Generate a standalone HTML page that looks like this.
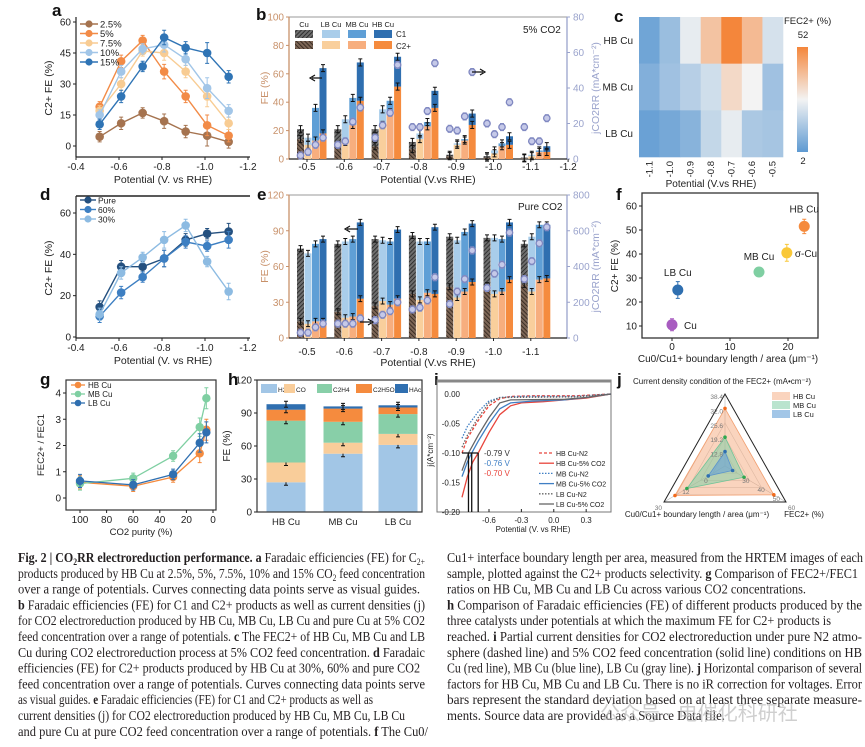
<!DOCTYPE html>
<html><head><meta charset="utf-8">
<style>
body{margin:0;background:#fff;width:865px;height:747px;overflow:hidden}
svg{display:block;font-family:"Liberation Sans","Noto Sans CJK SC",sans-serif}
.cap{font-family:"Liberation Serif","Noto Serif CJK SC",serif;font-size:14px;fill:#231f20}
.lt{font-size:17px;font-weight:bold;fill:#111}
</style></head>
<body>
<svg id="fig" width="865" height="747" viewBox="0 0 865 747">
<defs>
<pattern id="hatch1" width="3" height="3" patternUnits="userSpaceOnUse" patternTransform="rotate(45)"><rect width="3" height="3" fill="#6e6e6e"/><line x1="0" y1="0" x2="0" y2="3" stroke="#222" stroke-width="1.6"/></pattern>
<pattern id="hatch2" width="3" height="3" patternUnits="userSpaceOnUse" patternTransform="rotate(-45)"><rect width="3" height="3" fill="#7d6656"/><line x1="0" y1="0" x2="0" y2="3" stroke="#2b2019" stroke-width="1.6"/></pattern>
<linearGradient id="cbar" x1="0" y1="1" x2="0" y2="0"><stop offset="0" stop-color="#5e9ad2"/><stop offset="0.5" stop-color="#f3f3f3"/><stop offset="1" stop-color="#f4863b"/></linearGradient>
</defs>
<text class="lt" x="52" y="16">a</text>
<text class="lt" x="256" y="20">b</text>
<text class="lt" x="614" y="22">c</text>
<text class="lt" x="40" y="200">d</text>
<text class="lt" x="257" y="200">e</text>
<text class="lt" x="616" y="200">f</text>
<text class="lt" x="40" y="385">g</text>
<text class="lt" x="228" y="385">h</text>
<text class="lt" x="434" y="385">i</text>
<text class="lt" x="617" y="385">j</text>

<g>
<text class="cap" x="18" y="562" textLength="407" lengthAdjust="spacingAndGlyphs"><tspan font-weight="bold">Fig. 2 | CO<tspan font-size="9" dy="3">2</tspan><tspan dy="-3">RR electroreduction performance. a</tspan></tspan> Faradaic efficiencies (FE) for C<tspan font-size="9" dy="3">2+</tspan></text>
<text class="cap" x="18" y="577.8" textLength="407" lengthAdjust="spacingAndGlyphs">products produced by HB Cu at 2.5%, 5%, 7.5%, 10% and 15% CO<tspan font-size="9" dy="3">2</tspan><tspan dy="-3"> feed concentration</tspan></text>
<text class="cap" x="18" y="593.6" textLength="402" lengthAdjust="spacingAndGlyphs">over a range of potentials. Curves connecting data points serve as visual guides.</text>
<text class="cap" x="18" y="609.4" textLength="407" lengthAdjust="spacingAndGlyphs"><tspan font-weight="bold">b</tspan> Faradaic efficiencies (FE) for C1 and C2+ products as well as current densities (j)</text>
<text class="cap" x="18" y="625.2" textLength="407" lengthAdjust="spacingAndGlyphs">for CO2 electroreduction produced by HB Cu, MB Cu, LB Cu and pure Cu at 5% CO2</text>
<text class="cap" x="18" y="641" textLength="407" lengthAdjust="spacingAndGlyphs">feed concentration over a range of potentials. <tspan font-weight="bold">c</tspan> The FEC2+ of HB Cu, MB Cu and LB</text>
<text class="cap" x="18" y="656.8" textLength="407" lengthAdjust="spacingAndGlyphs">Cu during CO2 electroreduction process at 5% CO2 feed concentration. <tspan font-weight="bold">d</tspan> Faradaic</text>
<text class="cap" x="18" y="672.6" textLength="402" lengthAdjust="spacingAndGlyphs">efficiencies (FE) for C2+ products produced by HB Cu at 30%, 60% and pure CO2</text>
<text class="cap" x="18" y="688.4" textLength="407" lengthAdjust="spacingAndGlyphs">feed concentration over a range of potentials. Curves connecting data points serve</text>
<text class="cap" x="18" y="704.2" textLength="355" lengthAdjust="spacingAndGlyphs">as visual guides. <tspan font-weight="bold">e</tspan> Faradaic efficiencies (FE) for C1 and C2+ products as well as</text>
<text class="cap" x="18" y="720" textLength="387" lengthAdjust="spacingAndGlyphs">current densities (j) for CO2 electroreduction produced by HB Cu, MB Cu, LB Cu</text>
<text class="cap" x="18" y="735.8" textLength="410" lengthAdjust="spacingAndGlyphs">and pure Cu at pure CO2 feed concentration over a range of potentials. <tspan font-weight="bold">f</tspan> The Cu0/</text>
<text class="cap" x="447" y="562" textLength="416" lengthAdjust="spacingAndGlyphs">Cu1+ interface boundary length per area, measured from the HRTEM images of each</text>
<text class="cap" x="447" y="577.8" textLength="411" lengthAdjust="spacingAndGlyphs">sample, plotted against the C2+ products selectivity. <tspan font-weight="bold">g</tspan> Comparison of FEC2+/FEC1</text>
<text class="cap" x="447" y="593.6" textLength="359" lengthAdjust="spacingAndGlyphs">ratios on HB Cu, MB Cu and LB Cu across various CO2 concentrations.</text>
<text class="cap" x="447" y="609.4" textLength="415" lengthAdjust="spacingAndGlyphs"><tspan font-weight="bold">h</tspan> Comparison of Faradaic efficiencies (FE) of different products produced by the</text>
<text class="cap" x="447" y="625.2" textLength="384" lengthAdjust="spacingAndGlyphs">three catalysts under potentials at which the maximum FE for C2+ products is</text>
<text class="cap" x="447" y="641" textLength="415" lengthAdjust="spacingAndGlyphs">reached. <tspan font-weight="bold">i</tspan> Partial current densities for CO2 electroreduction under pure N2 atmo-</text>
<text class="cap" x="447" y="656.8" textLength="415" lengthAdjust="spacingAndGlyphs">sphere (dashed line) and 5% CO2 feed concentration (solid line) conditions on HB</text>
<text class="cap" x="447" y="672.6" textLength="415" lengthAdjust="spacingAndGlyphs">Cu (red line), MB Cu (blue line), LB Cu (gray line). <tspan font-weight="bold">j</tspan> Horizontal comparison of several</text>
<text class="cap" x="447" y="688.4" textLength="415" lengthAdjust="spacingAndGlyphs">factors for HB Cu, MB Cu and LB Cu. There is no iR correction for voltages. Error</text>
<text class="cap" x="447" y="704.2" textLength="415" lengthAdjust="spacingAndGlyphs">bars represent the standard deviation based on at least three separate measure-</text>
<text class="cap" x="447" y="720" textLength="278" lengthAdjust="spacingAndGlyphs">ments. Source data are provided as a Source Data file.</text>
<text x="600" y="720" font-size="20" fill="#bbb" fill-opacity="0.7">公众号 · 电催化科研社</text>
</g>
</svg>
<script>
const NS='http://www.w3.org/2000/svg';
const svg=document.getElementById('fig');
function mk(tag,attrs,parent){const e=document.createElementNS(NS,tag);for(const k in attrs)e.setAttribute(k,attrs[k]);(parent||svg).appendChild(e);return e;}
function txt(x,y,s,attrs){const e=mk('text',Object.assign({x:x,y:y},attrs||{}));e.textContent=s;return e;}
function lin(p0,p1,v0,v1){return v=>p0+(v-v0)*(p1-p0)/(v1-v0);}

/* ---------- data: panel a ---------- */
const aPot=[-0.51,-0.61,-0.71,-0.81,-0.91,-1.01,-1.11];
const aNames=['2.5%','5%','7.5%','10%','15%'];
const aFE25=[4.5,11,16,12,7,5,2];
const aFE5=[19,41,51,36,24,10,5];
const aFE75=[17,30,46,45,36,24,11];
const aFE10=[15,36,47,49,42,28,17];
const aFE15=[10.5,24,38.5,52.5,47.5,45,33.5];
const aErr=[2.5,3,2.5,3.5,3,5,3];
/* ---------- data: panel d ---------- */
const dNames=['Pure','60%','30%'];
const dPure=[14.5,34,34,38,47,50,51];
const d60=[10,21.5,29,38,46,44,47];
const d30=[11,31,38.5,47,54,36.5,22];
const dErr=[3,3,2.5,4,3,2.5,4];
/* ---------- data: panel b (5% CO2) ---------- */
const bPot=[-0.5,-0.6,-0.7,-0.8,-0.9,-1.0,-1.1];
const bTotCu=[21,21,21,12,3,2,1];
const bTotLB=[15,28,35,18,11,6,3];
const bTotMB=[36,43,41,26,14,11,6];
const bTotHB=[64,68,72,48,32,16,9];
const bC2Cu=[14,10,9,7,2,1,0.5];
const bC2LB=[10,12,24,14,10,4,2];
const bC2MB=[13,24,33,23,13,9,5];
const bC2HB=[18,41,51,36,24,10,5];
const bJCu=[2,8,12,18,17,20,18];
const bJLB=[4,10,19,18,16,14,10];
const bJMB=[8,21,26,27,24,18,10];
const bJHB=[12,29,53,54,49,32,23];
/* ---------- data: panel e (pure CO2) ---------- */
const eTotCu=[75,79,83,86,85,84,79];
const eTotLB=[71,81,82,81,82,84,85];
const eTotMB=[79,83,81,81,89,83,95];
const eTotHB=[83,97,91,93,96,97,95];
const eC2Cu=[14,22,27,37,43,44,45];
const eC2LB=[12,17,31,32,34,37,39];
const eC2MB=[14,18,28,38,39,39,49];
const eC2HB=[14,33,33,37,47,49,50];
const eJCu=[30,80,100,160,190,280,330];
const eJLB=[30,80,130,170,260,360,430];
const eJMB=[60,80,150,210,330,410,530];
const eJHB=[80,110,200,340,490,590,620];
/* ---------- data: panel c ---------- */
const cCols=['-1.1','-1.0','-0.9','-0.8','-0.7','-0.6','-0.5'];
const cRows=['HB Cu','MB Cu','LB Cu'];
const cHB=[5,12,25,38,52,40,22];
const cMB=[8,13,17,21,33,27,13];
const cLB=[4,6,9,19,25,15,14];
/* ---------- data: panel f ---------- */
const fNames=['Cu','LB Cu','MB Cu','σ-Cu','HB Cu'];
const fBoundary=[0,1,15,19.8,22.8];
const fFE=[10.5,25,32.5,40.5,51.5];
const fErr=[2.5,3.5,1,3.5,3];
/* ---------- data: panel g ---------- */
const gPurity=[100,60,30,10,5];
const gHB=[0.6,0.45,0.8,1.7,2.6];
const gMB=[0.55,0.75,1.6,2.7,3.8];
const gLB=[0.65,0.5,0.9,2.1,2.5];
const gErr=[0.25,0.2,0.2,0.35,0.4];
/* ---------- data: panel h ---------- */
const hCats=['HB Cu','MB Cu','LB Cu'];
const hProducts=['H2','CO','C2H4','C2H5OH','HAc'];
const hH2=[27,53,61];
const hCO=[18,10,10];
const hC2H4=[38,19,18];
const hEtOH=[10,12,6];
const hHAc=[5,2,2];
/* ---------- data: panel i ---------- */
const iHBN2=[[-0.85,-0.10],[-0.8,-0.075],[-0.7,-0.045],[-0.6,-0.02],[-0.5,-0.008],[-0.4,-0.004],[-0.2,-0.003],[0.2,-0.003],[0.53,0]];
const iHBCO2=[[-0.85,-0.175],[-0.8,-0.14],[-0.75,-0.115],[-0.7,-0.10],[-0.6,-0.065],[-0.5,-0.035],[-0.4,-0.02],[-0.3,-0.015],[-0.1,-0.013],[0.1,-0.01],[0.3,-0.007],[0.53,0]];
const iMBN2=[[-0.85,-0.075],[-0.8,-0.055],[-0.7,-0.03],[-0.6,-0.012],[-0.5,-0.006],[-0.3,-0.004],[0.2,-0.004],[0.53,0]];
const iMBCO2=[[-0.85,-0.14],[-0.8,-0.115],[-0.76,-0.10],[-0.7,-0.08],[-0.6,-0.05],[-0.5,-0.025],[-0.4,-0.015],[-0.2,-0.012],[0.1,-0.01],[0.3,-0.006],[0.53,0]];
const iLBN2=[[-0.85,-0.09],[-0.8,-0.07],[-0.7,-0.04],[-0.6,-0.015],[-0.5,-0.006],[0.2,-0.005],[0.53,0]];
const iLBCO2=[[-0.85,-0.13],[-0.79,-0.10],[-0.7,-0.07],[-0.6,-0.04],[-0.5,-0.015],[-0.4,-0.01],[0.1,-0.009],[0.3,-0.006],[0.53,0]];
const iOnset=[-0.79,-0.76,-0.70];
/* ---------- data: panel j ---------- */
const jMin=[6.4,-10,20];
const jMax=[38.4,30,60];
const jHB=[32,22.8,52];
const jMB=[19.2,15,32.5];
const jLB=[12.8,1,25];

/* ---------- helpers ---------- */
function axisLine(x1,y1,x2,y2,c,w){mk('line',{x1:x1,y1:y1,x2:x2,y2:y2,stroke:c||'#222','stroke-width':w||1.2});}
function yTicks(vals,ys,x,color,fmt,side){vals.forEach(v=>{const y=ys(v);mk('line',{x1:x,x2:x+(side||-3),y1:y,y2:y,stroke:color});txt(side>0?x+6:x-5,y+3.5,fmt?fmt(v):String(v),{'text-anchor':side>0?'start':'end','font-size':10,fill:color});});}
function xTicks(vals,xs,y,labY,fmt){vals.forEach(v=>{const x=xs(v);mk('line',{x1:x,x2:x,y1:y,y2:y+3,stroke:'#222'});txt(x,labY,fmt?fmt(v):String(v),{'text-anchor':'middle','font-size':10,fill:'#222'});});}
function rotText(x,y,s,size,color){return txt(x,y,s,{'text-anchor':'middle','font-size':size,fill:color,transform:`rotate(-90 ${x} ${y})`});}
function errBar(x,y1,y2,c){mk('path',{d:`M${x},${y1}V${y2}M${x-2},${y1}h4M${x-2},${y2}h4`,stroke:c,'stroke-width':1,fill:'none'});}
function drawLineSeries(xs,ys,pots,vals,err,color,key){
  const d=pots.map((p,i)=>(i?'L':'M')+xs(p).toFixed(1)+','+ys(vals[i]).toFixed(1)).join('');
  const path=mk('path',{d:d,fill:'none',stroke:color,'stroke-width':1.4});
  
  
  pots.forEach((p,i)=>{
    const x=xs(p),y=ys(vals[i]),e=err[i]*(ys(0)-ys(1));
    errBar(x,y-e,y+e,color);
    const c=mk('circle',{cx:x,cy:y,r:4.3,fill:color});
    
    
  });
}
const fmtP=v=>v.toFixed(1);

/* ---------- panel a ---------- */
(function(){
  const xs=lin(76,248,-0.4,-1.2), ys=lin(146,22,0,60);
  axisLine(76,17,76,157);axisLine(76,157,250,157);
  yTicks([0,15,30,45,60],ys,76,'#222');
  xTicks([-0.4,-0.6,-0.8,-1.0,-1.2],xs,157,170,fmtP);
  const tl=txt(163,183,'Potential (V. vs RHE)',{'text-anchor':'middle','font-size':10.5,fill:'#222'});
  
  const yt=rotText(52,88,'C2+ FE (%)',10.5,'#222');
  
  const cols=['#a5734f','#f28b47','#f8cc93','#a2c6e8','#2f74b5'];
  const ser=[aFE25,aFE5,aFE75,aFE10,aFE15];
  ser.forEach((s,i)=>drawLineSeries(xs,ys,aPot,s,aErr,cols[i],'a-'+aNames[i]));
  aNames.forEach((n,i)=>{const y=24+i*9.5;
    mk('line',{x1:80,x2:98,y1:y,y2:y,stroke:cols[i],'stroke-width':1.4});
    const c=mk('circle',{cx:89,cy:y,r:3.6,fill:cols[i]});
    
    
    txt(100,y+3.5,n,{'font-size':9.5,fill:'#222'});});
})();

/* ---------- panel d ---------- */
(function(){
  const xs=lin(76,248,-0.4,-1.2), ys=lin(337,213,0,60);
  axisLine(76,196,76,338);axisLine(76,338,250,338);axisLine(76,196,250,196,'#222',1.4);
  yTicks([0,20,40,60],ys,76,'#222');
  xTicks([-0.4,-0.6,-0.8,-1.0,-1.2],xs,338,351,fmtP);
  const tl=txt(163,364,'Potential (V. vs RHE)',{'text-anchor':'middle','font-size':10.5,fill:'#222'});
  
  const yt=rotText(52,268,'C2+ FE (%)',10.5,'#222');
  
  const cols=['#24507f','#3d7fc2','#8dbbe2'];
  [dPure,d60,d30].forEach((s,i)=>drawLineSeries(xs,ys,aPot,s,dErr,cols[i],'d-'+dNames[i]));
  dNames.forEach((n,i)=>{const y=200+i*9.5;
    mk('line',{x1:80,x2:96,y1:y,y2:y,stroke:cols[i],'stroke-width':1.4});
    const c=mk('circle',{cx:88,cy:y,r:3.6,fill:cols[i]});
    
    
    txt(98,y+3.5,n,{'font-size':8.5,fill:'#222'});});
})();

/* ---------- bar panels b & e ---------- */
const c1Cols=['url(#hatch1)','#a9cdea','#5f9fd6','#2f6fb0'];
const c2Cols=['url(#hatch2)','#f9cf9c','#f7ae7e','#f58b3e'];
const catKeys=['cu','lb','mb','hb'];
function barPanel(key,top,bottom,yMax,jMaxV,tots,c2s,js,xTickVals){
  const xs=lin(307,344.3,-0.5,-0.6), ys=lin(bottom,top,0,yMax), jy=lin(bottom,top,0,jMaxV);
  const brown='#c8916a',lav='#9aa3cc';
  axisLine(289,top,567,top,'#999',1);
  axisLine(289,top,289,bottom,brown,1.3);axisLine(567,top,567,bottom,lav,1.3);axisLine(289,bottom,567,bottom,'#222',1.2);
  const yStep=yMax/(yMax===100?5:4);
  const yv=[];for(let v=0;v<=yMax+0.01;v+=yStep)yv.push(v);
  yTicks(yv,ys,289,brown);
  const jStep=jMaxV/4;const jvv=[];for(let v=0;v<=jMaxV+0.01;v+=jStep)jvv.push(v);
  yTicks(jvv,jy,567,lav,null,3);
  xTicks(xTickVals,xs,bottom,bottom+(key==='b'?11:17),fmtP);
  bPot.forEach((p,g)=>{
    for(let k=0;k<4;k++){
      const x=xs(p)-10+k*7.5, tot=tots[k][g], c2=c2s[k][g];
      const r2=mk('rect',{x:x,y:ys(c2),width:7,height:ys(0)-ys(c2),fill:c2Cols[k]});
      
      
      const r1=mk('rect',{x:x,y:ys(tot),width:7,height:ys(c2)-ys(tot),fill:c1Cols[k]});
      
      
      const e=(ys(0)-ys(1))*2.5;
      errBar(x+3.5,ys(tot)-e,ys(tot)+e,'#111');
      errBar(x+3.5,ys(c2)-e,ys(c2)+e,'#111');
      const jyv=jy(js[k][g]),je=(jy(0)-jy(1))*jMaxV/40;
      errBar(x+3.5,jyv-je,jyv+je,'#8a93c8');
      const pt=mk('circle',{cx:x+3.5,cy:jyv,r:3.2,fill:'#c5c9e8',stroke:'#7f87c0','stroke-width':1.3});
      
      
    }
  });
  const xt=txt(428,bottom+(key==='b'?24:28),'Potential (V.vs RHE)',{'text-anchor':'middle','font-size':10.5,fill:'#222'});
  
  const yt=rotText(268,(top+bottom)/2,'FE (%)',10.5,brown);
  
  const jt=rotText(599,(top+bottom)/2,'jCO2RR (mA*cm⁻²)',10.5,lav);
  
}
(function(){
  barPanel('b',17,159,100,80,[bTotCu,bTotLB,bTotMB,bTotHB],[bC2Cu,bC2LB,bC2MB,bC2HB],[bJCu,bJLB,bJMB,bJHB],[-0.5,-0.6,-0.7,-0.8,-0.9,-1.0,-1.1,-1.2]);
  const t=txt(523,33,'5% CO2',{'font-size':10,fill:'#222'});
  
  const heads=['Cu','LB Cu','MB Cu','HB Cu'], hx=[304,331,357,383];
  heads.forEach((h,i)=>{txt(hx[i],27,h,{'text-anchor':'middle','font-size':7.5,fill:'#222'});
    const s1=mk('rect',{x:hx[i]-9,y:30,width:18,height:8,fill:c1Cols[i]});
    
    
    const s2=mk('rect',{x:hx[i]-9,y:41,width:18,height:8,fill:c2Cols[i]});
    
    });
  txt(396,37,'C1',{'font-size':8,fill:'#222'});txt(396,49,'C2+',{'font-size':8,fill:'#222'});
  mk('path',{d:'M322,78H312M315,75L310,78L315,81',stroke:'#111',fill:'none','stroke-width':1.2});
  mk('path',{d:'M472,72H483M480,69L485,72L480,75',stroke:'#111',fill:'none','stroke-width':1.2});
})();
(function(){
  barPanel('e',195,338,120,800,[eTotCu,eTotLB,eTotMB,eTotHB],[eC2Cu,eC2LB,eC2MB,eC2HB],[eJCu,eJLB,eJMB,eJHB],[-0.5,-0.6,-0.7,-0.8,-0.9,-1.0,-1.1]);
  const t=txt(518,210,'Pure CO2',{'font-size':10,fill:'#222'});
  
  mk('path',{d:'M358,229H347M350,226L345,229L350,232',stroke:'#111',fill:'none','stroke-width':1.2});
  mk('path',{d:'M360,322H371M368,319L373,322L368,325',stroke:'#111',fill:'none','stroke-width':1.2});
})();

/* ---------- panel c heatmap ---------- */
function heat(v){const t=Math.max(0,Math.min(1,(v-2)/50));const a=[94,154,210],m=[243,243,243],b=[244,134,59];let c;
  if(t<0.5){const u=t/0.5;c=a.map((x,i)=>x+(m[i]-x)*u);}else{const u=(t-0.5)/0.5;c=m.map((x,i)=>x+(b[i]-x)*u);}
  return 'rgb('+c.map(Math.round).join(',')+')';}
(function(){
  const x0=639,y0=17,w=(783-639)/7,h=(157-17)/3;
  [cHB,cMB,cLB].forEach((row,r)=>{
    row.forEach((v,c)=>{const cell=mk('rect',{x:x0+c*w,y:y0+r*h,width:w+0.3,height:h+0.3,fill:heat(v)});
      
      });
    txt(633,y0+r*h+h/2+3.5,cRows[r],{'text-anchor':'end','font-size':10,fill:'#222'});
  });
  cCols.forEach((s,c)=>{const x=x0+c*w+w/2+3;txt(x,161,s,{'text-anchor':'end','font-size':9.5,fill:'#222',transform:`rotate(-90 ${x} 161)`});});
  const t=txt(711,187,'Potential (V.vs RHE)',{'text-anchor':'middle','font-size':10,fill:'#222'});
  
  const cb=mk('rect',{x:797,y:47,width:11,height:105,fill:'url(#cbar)'});
  
  
  txt(803,38,'52',{'text-anchor':'middle','font-size':9.5,fill:'#222'});
  txt(803,164,'2',{'text-anchor':'middle','font-size':9.5,fill:'#222'});
  txt(784,24,'FEC2+ (%)',{'font-size':9.5,fill:'#222'});
})();

/* ---------- panel f ---------- */
(function(){
  const xs=lin(672,788,0,20), ys=lin(326,206,10,60);
  mk('rect',{x:642,y:193,width:176,height:145,fill:'none',stroke:'#333','stroke-width':1.3});
  yTicks([10,20,30,40,50,60],ys,642,'#222');
  xTicks([0,10,20],xs,338,350,v=>String(v));
  const xt=txt(728,362,'Cu0/Cu1+ boundary length / area (μm⁻¹)',{'text-anchor':'middle','font-size':10,fill:'#222'});
  
  const yt=rotText(618,266,'C2+ FE (%)',10,'#222');
  
  const cols=['#a85cc0','#2f6fb0','#7fcfa2','#f9c838','#f58b3e'];
  const lx=[12,0,0,8,0], ly=[4,-14,-12,4,-14], la=['start','middle','middle','start','middle'];
  fNames.forEach((n,i)=>{const x=xs(fBoundary[i]),y=ys(fFE[i]),e=fErr[i]*(ys(0)-ys(1));
    errBar(x,y-e,y+e,cols[i]);
    const c=mk('circle',{cx:x,cy:y,r:5.5,fill:cols[i]});
    
    
    txt(x+lx[i],y+ly[i],n,{'text-anchor':la[i],'font-size':10,fill:'#222'});});
})();

/* ---------- panel g ---------- */
(function(){
  const xs=lin(80,213,100,0), ys=lin(498,393,0,4);
  mk('rect',{x:66,y:380,width:150,height:130,fill:'none',stroke:'#333','stroke-width':1.2});
  yTicks([0,1,2,3,4],ys,66,'#222');
  xTicks([100,80,60,40,20,0],xs,510,523,v=>String(v));
  const xt=txt(141,535,'CO2 purity (%)',{'text-anchor':'middle','font-size':9.5,fill:'#222'});
  
  const yt=rotText(44,445,'FEC2+ / FEC1',9.5,'#222');
  
  const names=['HB Cu','MB Cu','LB Cu'],cols=['#f58b3e','#7fcfa2','#2f6fb0'];
  [gHB,gMB,gLB].forEach((s,k)=>{
    const d=gPurity.map((p,i)=>(i?'L':'M')+xs(p).toFixed(1)+','+ys(s[i]).toFixed(1)).join('');
    const path=mk('path',{d:d,fill:'none',stroke:cols[k],'stroke-width':1.3});
    
    
    gPurity.forEach((p,i)=>{const x=xs(p),y=ys(s[i]),e=gErr[i]*(ys(0)-ys(1));
      errBar(x,y-e,y+e,cols[k]);
      const c=mk('circle',{cx:x,cy:y,r:4.2,fill:cols[k]});
      
      });
    const ly=385+k*9;
    mk('line',{x1:71,x2:85,y1:ly,y2:ly,stroke:cols[k],'stroke-width':1.3});
    mk('circle',{cx:78,cy:ly,r:3.3,fill:cols[k]});
    txt(88,ly+3,names[k],{'font-size':8,fill:'#222'});
  });
})();

/* ---------- panel h ---------- */
(function(){
  const ys=lin(512,380,0,120), cx=[286,343,398], bw=39;
  const cols=['#a2c6e6','#f9cd9a','#88cfa8','#f58b3e','#2f6fb0'];
  [hH2,hCO,hC2H4,hEtOH,hHAc].forEach((s,k,arr)=>{
    s.forEach((v,i)=>{let base=0;for(let j=0;j<k;j++)base+=arr[j][i];
      const r=mk('rect',{x:cx[i]-bw/2,y:ys(base+v),width:bw,height:ys(base)-ys(base+v),fill:cols[k]});
      
      
      errBar(cx[i],ys(base+v)-3,ys(base+v)+3,'#111');});
  });
  mk('rect',{x:257,y:380,width:165,height:132,fill:'none',stroke:'#333','stroke-width':1.2});
  yTicks([0,30,60,90,120],ys,257,'#222');
  hCats.forEach((c,i)=>txt(cx[i],525,c,{'text-anchor':'middle','font-size':9.5,fill:'#222'}));
  const yt=rotText(230,446,'FE (%)',10,'#222');
  
  const lx=[261,284,317,356,395],lw=[16,11,15,16,13],labs=['H2','CO','C2H4','C2H5OH','HAc'];
  labs.forEach((l,k)=>{const s=mk('rect',{x:lx[k],y:384,width:lw[k],height:9,fill:cols[k]});
    
    
    txt(lx[k]+lw[k]+1,392,l,{'font-size':6.5,fill:'#222'});});
})();

/* ---------- panel i ---------- */
(function(){
  const xs=lin(462,611,-0.85,0.53), ys=lin(394,512,0,-0.2);
  mk('rect',{x:437,y:380,width:174,height:132,fill:'none',stroke:'#777','stroke-width':1});
  axisLine(437,381,611,381,'#888',3);
  [0,-0.05,-0.10,-0.15,-0.20].forEach(v=>{txt(460,ys(v)+3,v.toFixed(2),{'text-anchor':'end','font-size':8,fill:'#222'});});
  [-0.6,-0.3,0.0,0.3].forEach(v=>{txt(xs(v),523,v.toFixed(1),{'text-anchor':'middle','font-size':8,fill:'#222'});mk('line',{x1:xs(v),x2:xs(v),y1:512,y2:509,stroke:'#222'});});
  const xt=txt(533,532,'Potential (V. vs RHE)',{'text-anchor':'middle','font-size':8,fill:'#222'});
  
  const yt=rotText(433,450,'j(A*cm⁻²)',8,'#222');
  
  const ser=[iHBN2,iHBCO2,iMBN2,iMBCO2,iLBN2,iLBCO2];
  const cols=['#e8453c','#e8453c','#3f7fc4','#3f7fc4','#666','#666'];
  const dash=['3,2','','1.5,1.5','','1.5,1.5',''];
  const names=['HB Cu-N2','HB Cu-5% CO2','MB Cu-N2','MB Cu-5% CO2','LB Cu-N2','LB Cu-5% CO2'];
  ser.forEach((s,k)=>{const d=s.map((p,i)=>(i?'L':'M')+xs(p[0]).toFixed(1)+','+ys(p[1]).toFixed(1)).join('');
    const path=mk('path',{d:d,fill:'none',stroke:cols[k],'stroke-width':1.3,'stroke-dasharray':dash[k]});
    
    
    const ly=453+k*10.2;
    mk('line',{x1:539,x2:554,y1:ly,y2:ly,stroke:cols[k],'stroke-width':1.3,'stroke-dasharray':dash[k]});
    txt(556,ly+3,names[k],{'font-size':7,fill:'#222'});});
  axisLine(462,ys(-0.1),xs(-0.70),ys(-0.1),'#111',1.2);
  iOnset.forEach(v=>axisLine(xs(v),ys(-0.1),xs(v),512,'#111',1.3));
  const lc=['#333','#3f7fc4','#e8453c'];
  iOnset.forEach((v,k)=>{txt(484,ys(-0.1)+3+k*10,v.toFixed(2)+' V',{'font-size':8,fill:lc[k]});});
})();

/* ---------- panel j radar ---------- */
(function(){
  const C=[725,466], V=[[725,394],[664,502],[786,502]];
  const pt=(ax,f)=>[C[0]+(V[ax][0]-C[0])*f,C[1]+(V[ax][1]-C[1])*f];
  [0.2,0.4,0.6,0.8].forEach(f=>{const p=[0,1,2].map(a=>pt(a,f).join(',')).join(' ');mk('polygon',{points:p,fill:'none',stroke:'#ccc','stroke-width':0.6});});
  [0,1,2].forEach(a=>axisLine(C[0],C[1],V[a][0],V[a][1],'#bbb',0.6));
  const names=['HB Cu','MB Cu','LB Cu'],fills=['rgba(244,160,110,0.45)','rgba(130,205,165,0.55)','rgba(100,160,215,0.6)'],strokes=['#f4a070','#6fc497','#5b94cc'],dots=['#f26a1b','#2fa84f','#2f6fb0'];
  [jHB,jMB,jLB].forEach((s,k)=>{
    const ps=s.map((v,a)=>pt(a,(v-jMin[a])/(jMax[a]-jMin[a])));
    const poly=mk('polygon',{points:ps.map(p=>p.join(',')).join(' '),fill:fills[k],stroke:strokes[k],'stroke-width':0.8});
    
    
    ps.forEach(p=>mk('circle',{cx:p[0],cy:p[1],r:1.8,fill:dots[k]}));
    const sw=mk('rect',{x:772,y:392+k*9,width:18,height:8,fill:fills[k]});
    
    
    txt(793,399+k*9,names[k],{'font-size':7.5,fill:'#222'});
  });
  mk('polygon',{points:V.map(p=>p.join(',')).join(' '),fill:'none',stroke:'#222','stroke-width':1});
  ['38.4','32.0','25.6','19.2','12.8'].forEach((l,i)=>{const p=pt(0,1-i*0.2);txt(p[0]-2,p[1]+5,l,{'text-anchor':'end','font-size':6.5,fill:'#777'});});
  ['30','40','50','60'].forEach((l,i)=>{const p=pt(2,0.25+i*0.25);txt(p[0]+2,p[1]+8,l,{'font-size':6.5,fill:'#777'});});
  ['0','12','30'].forEach((l,i)=>{const p=pt(1,[0.25,0.55,1][i]);txt(p[0]-2,p[1]+8,l,{'text-anchor':'end','font-size':6.5,fill:'#777'});});
  const t=txt(633,384,'Current density condition of the FEC2+ (mA•cm⁻²)',{'font-size':8,fill:'#222'});
  
  txt(697,517,'Cu0/Cu1+ boundary length / area (μm⁻¹)',{'text-anchor':'middle','font-size':8,fill:'#222'});
  txt(804,517,'FEC2+ (%)',{'text-anchor':'middle','font-size':8,fill:'#222'});
})();
</script>
</body></html>
